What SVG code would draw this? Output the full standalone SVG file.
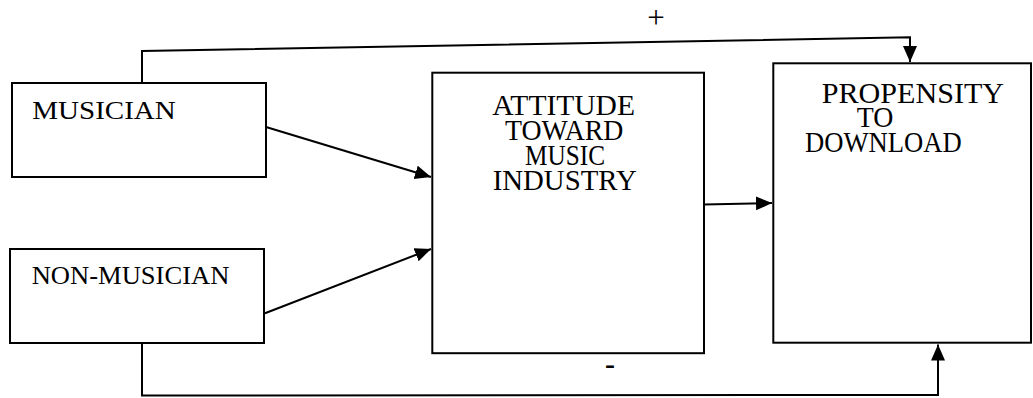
<svg xmlns="http://www.w3.org/2000/svg" width="1033" height="398" viewBox="0 0 1033 398">
<style>
.box{fill:#fff;stroke:#000;stroke-width:2}
.t{font-family:"Liberation Serif","Times New Roman",serif;fill:#000}
.c{fill:none;stroke:#000;stroke-width:2}
</style>
<defs>
<marker id="ah" markerUnits="userSpaceOnUse" markerWidth="18" markerHeight="16" refX="16" refY="7" orient="auto">
<path d="M0,0 L16,7 L0,14 z" fill="#000"/>
</marker>
</defs>
<rect width="1033" height="398" fill="#fff"/>
<g id="connectors">
<polyline class="c" points="142,83 142,51 910,37.3 910,62" marker-end="url(#ah)"/>
<line class="c" x1="266" y1="127" x2="431" y2="177" marker-end="url(#ah)"/>
<line class="c" x1="265" y1="313.3" x2="431" y2="249" marker-end="url(#ah)"/>
<line class="c" x1="704" y1="204.5" x2="772" y2="203" marker-end="url(#ah)"/>
<polyline class="c" points="142,343 142,395.5 938,395 938,344.5" marker-end="url(#ah)"/>
<text class="t" x="656" y="27.8" font-size="31" text-anchor="middle">+</text>
<text class="t" x="610" y="374" font-size="30" font-weight="bold" text-anchor="middle">-</text>
</g>
<g id="musician">
<rect class="box" x="12" y="83" width="254" height="94"/>
<text class="t" x="32.3" y="119" font-size="26" textLength="143.4" lengthAdjust="spacingAndGlyphs">MUSICIAN</text>
</g>
<g id="non-musician">
<rect class="box" x="10" y="249" width="254" height="94"/>
<text class="t" x="31.7" y="284" font-size="26" textLength="197.7" lengthAdjust="spacingAndGlyphs">NON-MUSICIAN</text>
</g>
<g id="attitude">
<rect class="box" x="432.3" y="72.7" width="271.7" height="280.5"/>
<text class="t" font-size="29">
<tspan x="492.3" y="115" textLength="142.7" lengthAdjust="spacingAndGlyphs">ATTITUDE</tspan>
<tspan x="505" y="140" textLength="118.3" lengthAdjust="spacingAndGlyphs">TOWARD</tspan>
<tspan x="525" y="165" textLength="80" lengthAdjust="spacingAndGlyphs">MUSIC</tspan>
<tspan x="492.7" y="190" textLength="144" lengthAdjust="spacingAndGlyphs">INDUSTRY</tspan>
</text>
</g>
<g id="propensity">
<rect class="box" x="773.3" y="63.3" width="257.7" height="279.4"/>
<text class="t" font-size="29">
<tspan x="821.7" y="103.3" textLength="181.3" lengthAdjust="spacingAndGlyphs">PROPENSITY</tspan>
<tspan x="856.7" y="126.7" textLength="36.6" lengthAdjust="spacingAndGlyphs">TO</tspan>
<tspan x="805" y="151.7" textLength="156.7" lengthAdjust="spacingAndGlyphs">DOWNLOAD</tspan>
</text>
</g>
</svg>
